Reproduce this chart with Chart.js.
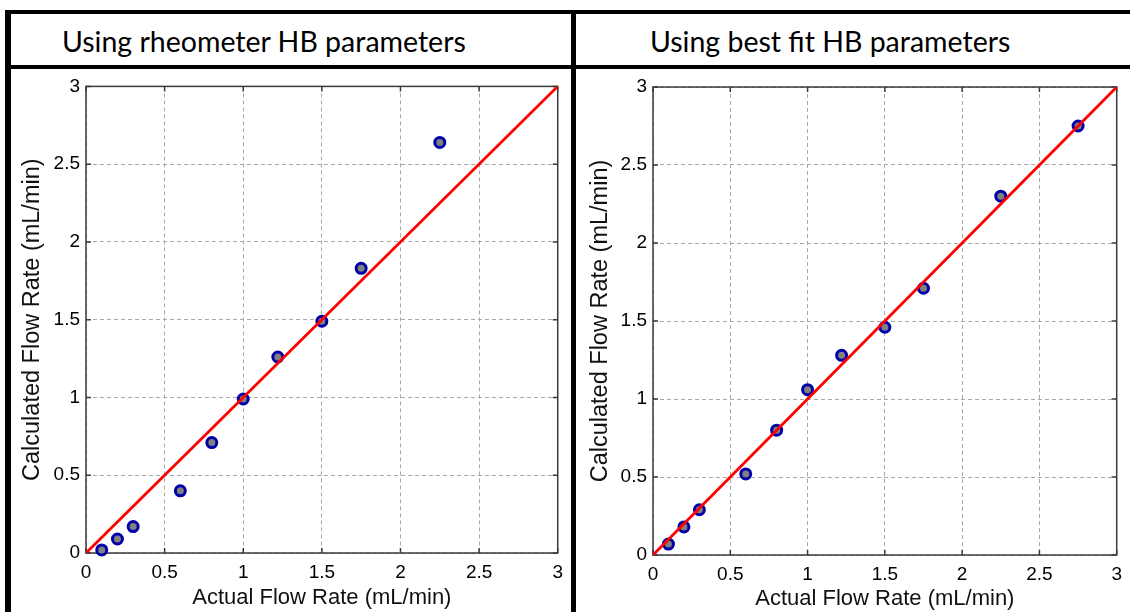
<!DOCTYPE html>
<html>
<head>
<meta charset="utf-8">
<title>Flow rate comparison</title>
<script src="https://cdn.jsdelivr.net/npm/chart.js@4.4.1/dist/chart.umd.min.js"></script>
<style>
  body { margin: 0; background: #fff; }
  #page { position: relative; width: 1130px; height: 612px; overflow: hidden; background: #fff; }
  .rule { position: absolute; background: #000; }
  .head { position: absolute; top: 27px; font-family: Lato, "Open Sans", sans-serif; font-size: 28.5px; line-height: 28px; color: #000; white-space: nowrap; }
  .cell { position: absolute; top: 69px; }
  .cell canvas { display: block; }
</style>
</head>
<body>
<div id="page">
  <div class="rule" style="left:5px; top:10px; width:1125px; height:4px;"></div>
  <div class="rule" style="left:5px; top:65px; width:1125px; height:4px;"></div>
  <div class="rule" style="left:5px; top:10px; width:6px; height:602px;"></div>
  <div class="rule" style="left:571px; top:10px; width:5px; height:602px;"></div>

  <div class="head" style="left:62px;">Using rheometer HB parameters</div>
  <div class="head" style="left:650px;">Using best fit HB parameters</div>

  <div class="cell" style="left:11px;"><canvas id="rheoChart" width="560" height="543"></canvas></div>
  <div class="cell" style="left:577px;"><canvas id="fitChart" width="553" height="543"></canvas></div>
</div>

<script>
// measured flow rates (mL/min)
const actualRheo = [0.1, 0.2, 0.3, 0.6, 0.8, 1.0, 1.22, 1.5, 1.75, 2.25];
const calcRheo   = [0.02, 0.09, 0.17, 0.40, 0.71, 0.99, 1.26, 1.49, 1.83, 2.64];

const actualFit = [0.1, 0.2, 0.3, 0.6, 0.8, 1.0, 1.22, 1.5, 1.75, 2.25, 2.75];
const calcFit   = [0.07, 0.18, 0.29, 0.52, 0.80, 1.06, 1.28, 1.46, 1.71, 2.30, 2.75];

// y = x reference line
const parityLine = [0, 3];
const axisTicks = [0, 0.5, 1, 1.5, 2, 2.5, 3];

const xTitle = "Actual Flow Rate (mL/min)";
const yTitle = "Calculated Flow Rate (mL/min)";

// axes box with small inward tick marks on all four sides
const boxTicks = {
  id: "boxTicks",
  beforeDatasetsDraw(chart) {
    const { ctx, chartArea: a, scales: { x, y } } = chart;
    ctx.save();
    ctx.strokeStyle = "#3a3a3a";
    ctx.lineWidth = 1.5;
    ctx.strokeRect(a.left, a.top, a.width, a.height);
    ctx.beginPath();
    x.ticks.forEach(t => {
      const px = x.getPixelForValue(t.value);
      ctx.moveTo(px, a.bottom); ctx.lineTo(px, a.bottom - 5);
      ctx.moveTo(px, a.top); ctx.lineTo(px, a.top + 5);
    });
    y.ticks.forEach(t => {
      const py = y.getPixelForValue(t.value);
      ctx.moveTo(a.left, py); ctx.lineTo(a.left + 5, py);
      ctx.moveTo(a.right, py); ctx.lineTo(a.right - 5, py);
    });
    ctx.stroke();
    ctx.restore();
  }
};

function makeChart(id, xs, ys, geom) {
  const pts = xs.map((v, i) => ({ x: v, y: ys[i] }));
  const line = parityLine.map(v => ({ x: v, y: v }));

  const axis = (title, isX) => ({
    type: "linear",
    min: 0,
    max: 3,
    afterBuildTicks: s => { s.ticks = axisTicks.map(v => ({ value: v })); },
    afterFit: s => {
      if (isX) s.height = geom.bottom;
      else s.width = geom.left;
    },
    grid: { color: "#a8a8a8", lineWidth: 1, drawTicks: false },
    border: { display: false, dash: [4, 3] },
    ticks: {
      color: "#000",
      padding: isX ? 8 : 6,
      font: { family: "Liberation Sans", size: 19 },
      callback: v => String(v)
    },
    title: {
      display: true,
      text: title,
      color: "#111",
      font: { family: "Liberation Sans", size: isX ? 22 : 23.5 },
      padding: isX ? { top: 0, bottom: geom.xTitlePad } : { top: geom.yTitlePad, bottom: 0 }
    }
  });

  return new Chart(document.getElementById(id), {
    type: "scatter",
    data: {
      datasets: [
        {
          type: "line",
          data: line,
          borderColor: "#ff0000",
          borderWidth: 2.8,
          pointRadius: 0,
          fill: false
        },
        {
          data: pts,
          backgroundColor: "#808080",
          borderColor: "#0000a8",
          borderWidth: 3,
          pointRadius: 5,
          clip: false
        }
      ]
    },
    options: {
      responsive: false,
      animation: false,
      layout: { padding: { top: geom.top, right: geom.right, left: 0, bottom: 0 } },
      plugins: { legend: { display: false }, tooltip: { enabled: false } },
      scales: { x: axis(xTitle, true), y: axis(yTitle, false) }
    },
    plugins: [boxTicks]
  });
}

makeChart("rheoChart", actualRheo, calcRheo, { left: 75, top: 16, right: 12, bottom: 59, yTitlePad: 7, xTitlePad: 1 });
makeChart("fitChart", actualFit, calcFit, { left: 76, top: 18, right: 4, bottom: 57, yTitlePad: 9, xTitlePad: 0 });
</script>
</body>
</html>
